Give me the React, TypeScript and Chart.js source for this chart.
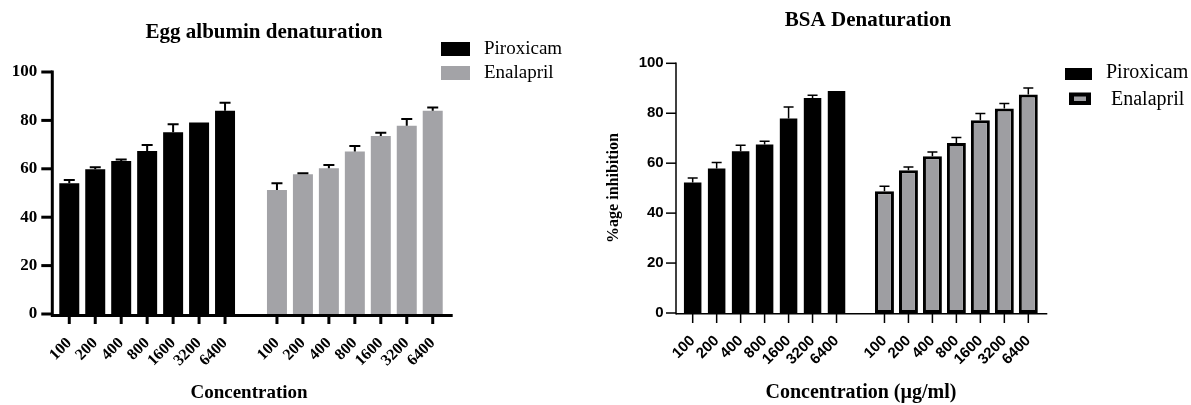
import React, { useEffect, useRef } from 'react';
import { Chart, registerables } from 'chart.js';

Chart.register(...registerables);

// ---- data ----
const concentrations = ['100', '200', '400', '800', '1600', '3200', '6400'];
const yTickValues = [0, 20, 40, 60, 80, 100];

const eggPiroxicam = [54.0, 59.8, 63.2, 67.4, 75.1, 79.1, 84.0];
const eggPiroxicamErr = [1.4, 0.8, 0.6, 2.4, 3.3, 0, 3.3];
const eggEnalapril = [51.2, 57.7, 60.2, 67.1, 73.6, 77.8, 84.0];
const eggEnalaprilErr = [2.8, 0.5, 1.4, 2.3, 1.3, 2.8, 1.3];

const bsaPiroxicam = [52.3, 57.9, 64.8, 67.5, 77.9, 86.1, 88.9];
const bsaPiroxicamErr = [1.8, 2.4, 2.4, 1.3, 4.6, 1.1, 0];
const bsaEnalapril = [48.8, 57.2, 62.8, 68.1, 77.2, 81.9, 87.5];
const bsaEnalaprilErr = [2.0, 1.3, 1.7, 2.2, 2.7, 2.0, 2.6];

const GRAY_EGG = '#a3a3a7';
const GRAY_BSA = '#9e9ea2';

type Spec = {
  width: number;
  height: number;
  area: { left: number; right: number; top: number; bottom: number };
  pir: number[];
  pirErr: number[];
  ena: number[];
  enaErr: number[];
  tickFamily: string;
  xTickSize: number;
  yTickSize: number;
  yTickPad: number;
  xTickPad: number;
  lineW: number;
  axisGap: number;
  axisExtend: number;
  yTickLen: number;
  xTickLen: number;
  errW: number;
  capHalf: number;
  pirBarPct: number;
  enaBarPct: number;
  enaFill: string;
  enaBorder: number;
  title: string;
  titleX: number;
  titleY: number;
  titleFont: string;
  xTitle: string;
  xTitleX: number;
  xTitleY: number;
  axisTitleFont: string;
  yTitle?: string;
  yTitleX?: number;
  yTitleY?: number;
  yTitleFont?: string;
  drawLegend: (ctx: CanvasRenderingContext2D) => void;
};

function makeChart(canvas: HTMLCanvasElement, spec: Spec) {
  const labels = [...concentrations, '', ...concentrations];
  const gap = Array(concentrations.length + 1).fill(null);
  const pirData = [...spec.pir, ...gap];
  const enaData = [...gap, ...spec.ena];
  const errs = [
    [...spec.pirErr, ...gap],
    [...gap, ...spec.enaErr],
  ];
  const a = spec.area;

  const decor = {
    id: 'decor',
    afterDatasetsDraw(chart: any) {
      const ctx: CanvasRenderingContext2D = chart.ctx;
      const ys = chart.scales.y;
      const xs = chart.scales.x;
      const ca = chart.chartArea;
      ctx.save();
      // error bars
      ctx.strokeStyle = '#000';
      ctx.lineWidth = spec.errW;
      chart.data.datasets.forEach((ds: any, i: number) => {
        const meta = chart.getDatasetMeta(i);
        meta.data.forEach((el: any, j: number) => {
          const v = ds.data[j];
          const e = errs[i][j];
          if (v == null || !e) return;
          const top = ys.getPixelForValue(v + e);
          ctx.beginPath();
          ctx.moveTo(el.x, el.y);
          ctx.lineTo(el.x, top);
          ctx.moveTo(el.x - spec.capHalf, top);
          ctx.lineTo(el.x + spec.capHalf, top);
          ctx.stroke();
        });
      });
      // axes
      const ax = ca.left - spec.axisGap;
      const y0 = ys.getPixelForValue(0);
      const yTop = ys.getPixelForValue(100);
      ctx.lineWidth = spec.lineW;
      ctx.beginPath();
      ctx.moveTo(ax, yTop - spec.lineW / 2);
      ctx.lineTo(ax, y0 + spec.lineW);
      ctx.stroke();
      yTickValues.forEach((v) => {
        const py = ys.getPixelForValue(v);
        ctx.beginPath();
        ctx.moveTo(ax - spec.yTickLen, py);
        ctx.lineTo(ax, py);
        ctx.stroke();
      });
      ctx.beginPath();
      ctx.moveTo(ax, y0 + spec.lineW / 2);
      ctx.lineTo(ca.right + spec.axisExtend, y0 + spec.lineW / 2);
      ctx.stroke();
      labels.forEach((lab, i) => {
        if (!lab) return;
        const px = xs.getPixelForValue(i);
        ctx.beginPath();
        ctx.moveTo(px, y0);
        ctx.lineTo(px, y0 + spec.xTickLen);
        ctx.stroke();
      });
      // texts
      ctx.fillStyle = '#000';
      ctx.textAlign = 'center';
      ctx.textBaseline = 'middle';
      ctx.font = spec.titleFont;
      ctx.fillText(spec.title, spec.titleX, spec.titleY);
      ctx.font = spec.axisTitleFont;
      ctx.fillText(spec.xTitle, spec.xTitleX, spec.xTitleY);
      if (spec.yTitle) {
        ctx.save();
        ctx.font = spec.yTitleFont as string;
        ctx.translate(spec.yTitleX as number, spec.yTitleY as number);
        ctx.rotate(-Math.PI / 2);
        ctx.fillText(spec.yTitle, 0, 0);
        ctx.restore();
      }
      spec.drawLegend(ctx);
      ctx.restore();
    },
  };

  return new Chart(canvas, {
    type: 'bar',
    data: {
      labels,
      datasets: [
        {
          label: 'Piroxicam',
          data: pirData,
          backgroundColor: '#000',
          borderWidth: 0,
          grouped: false,
          categoryPercentage: 1,
          barPercentage: spec.pirBarPct,
        } as any,
        {
          label: 'Enalapril',
          data: enaData,
          backgroundColor: spec.enaFill,
          borderColor: '#000',
          borderWidth: spec.enaBorder,
          borderSkipped: false,
          grouped: false,
          categoryPercentage: 1,
          barPercentage: spec.enaBarPct,
        } as any,
      ],
    },
    options: {
      responsive: false,
      animation: false,
      maintainAspectRatio: false,
      layout: {
        padding: { left: 0, top: a.top, right: spec.width - a.right, bottom: 0 },
      },
      plugins: { legend: { display: false }, tooltip: { enabled: false }, title: { display: false } },
      scales: {
        x: {
          type: 'category',
          offset: true,
          grid: { display: false, drawTicks: false },
          border: { display: false },
          ticks: {
            autoSkip: false,
            maxRotation: 45,
            minRotation: 45,
            padding: spec.xTickPad,
            color: '#000',
            font: { family: spec.tickFamily, size: spec.xTickSize, weight: 'bold' },
          },
          afterFit: (s: any) => {
            s.height = spec.height - a.bottom;
          },
        },
        y: {
          min: 0,
          max: 100,
          grid: { display: false, drawTicks: false },
          border: { display: false },
          ticks: {
            stepSize: 20,
            padding: spec.yTickPad,
            color: '#000',
            font: { family: spec.tickFamily, size: spec.yTickSize, weight: 'bold' },
          },
          afterFit: (s: any) => {
            s.width = a.left;
          },
        },
      },
    },
    plugins: [decor],
  } as any);
}

const eggSpec: Spec = {
  width: 600,
  height: 405,
  area: { left: 56.3, right: 445.7, top: 72, bottom: 314 },
  pir: eggPiroxicam,
  pirErr: eggPiroxicamErr,
  ena: eggEnalapril,
  enaErr: eggEnalaprilErr,
  tickFamily: '"Liberation Serif", "DejaVu Serif", serif',
  xTickSize: 16,
  yTickSize: 17,
  yTickPad: 19,
  xTickPad: 20,
  lineW: 3,
  axisGap: 4,
  axisExtend: 7,
  yTickLen: 11,
  xTickLen: 10,
  errW: 2,
  capHalf: 5.5,
  pirBarPct: 0.77,
  enaBarPct: 0.77,
  enaFill: GRAY_EGG,
  enaBorder: 0,
  title: 'Egg albumin denaturation',
  titleX: 264,
  titleY: 33,
  titleFont: 'bold 21px "Liberation Serif"',
  xTitle: 'Concentration',
  xTitleX: 249,
  xTitleY: 393,
  axisTitleFont: 'bold 19px "Liberation Serif"',
  drawLegend: (ctx) => {
    ctx.fillStyle = '#000';
    ctx.fillRect(441, 42, 29, 14);
    ctx.fillStyle = GRAY_EGG;
    ctx.fillRect(441, 66, 29, 14);
    ctx.fillStyle = '#000';
    ctx.font = '19px "Liberation Serif"';
    ctx.textAlign = 'left';
    ctx.fillText('Piroxicam', 484, 49);
    ctx.fillText('Enalapril', 484, 73);
  },
};

const bsaSpec: Spec = {
  width: 591,
  height: 405,
  area: { left: 80.7, right: 440.3, top: 63.3, bottom: 313 },
  pir: bsaPiroxicam,
  pirErr: bsaPiroxicamErr,
  ena: bsaEnalapril,
  enaErr: bsaEnalaprilErr,
  tickFamily: '"Liberation Sans", Arial, sans-serif',
  xTickSize: 15,
  yTickSize: 15,
  yTickPad: 17,
  xTickPad: 19,
  lineW: 1.5,
  axisGap: 4.7,
  axisExtend: 7,
  yTickLen: 10,
  xTickLen: 10,
  errW: 1.5,
  capHalf: 5,
  pirBarPct: 0.73,
  enaBarPct: 0.79,
  enaFill: GRAY_BSA,
  enaBorder: 3,
  title: 'BSA Denaturation',
  titleX: 268,
  titleY: 21,
  titleFont: 'bold 21px "Liberation Serif"',
  xTitle: 'Concentration (µg/ml)',
  xTitleX: 261,
  xTitleY: 393,
  axisTitleFont: 'bold 20px "Liberation Serif"',
  yTitle: '%age inhibition',
  yTitleX: 14,
  yTitleY: 188,
  yTitleFont: 'bold 16px "Liberation Serif"',
  drawLegend: (ctx) => {
    ctx.fillStyle = '#000';
    ctx.fillRect(465, 68, 27, 12);
    ctx.fillRect(469, 92.5, 22, 12.5);
    ctx.fillStyle = GRAY_BSA;
    ctx.fillRect(474, 96.5, 12, 4.5);
    ctx.fillStyle = '#000';
    ctx.font = '20px "Liberation Serif"';
    ctx.textAlign = 'left';
    ctx.fillText('Piroxicam', 506, 73);
    ctx.fillText('Enalapril', 511, 100);
  },
};

export default function App() {
  const leftRef = useRef<HTMLCanvasElement>(null);
  const rightRef = useRef<HTMLCanvasElement>(null);
  useEffect(() => {
    const c1 = makeChart(leftRef.current as HTMLCanvasElement, eggSpec);
    const c2 = makeChart(rightRef.current as HTMLCanvasElement, bsaSpec);
    return () => {
      c1.destroy();
      c2.destroy();
    };
  }, []);
  return (
    <div style={{ position: 'absolute', left: 0, top: 0, width: 1191, height: 405, background: '#fff' }}>
      <canvas
        ref={leftRef}
        width={600}
        height={405}
        style={{ position: 'absolute', left: 0, top: 0, width: 600, height: 405 }}
      />
      <canvas
        ref={rightRef}
        width={591}
        height={405}
        style={{ position: 'absolute', left: 600, top: 0, width: 591, height: 405 }}
      />
    </div>
  );
}
